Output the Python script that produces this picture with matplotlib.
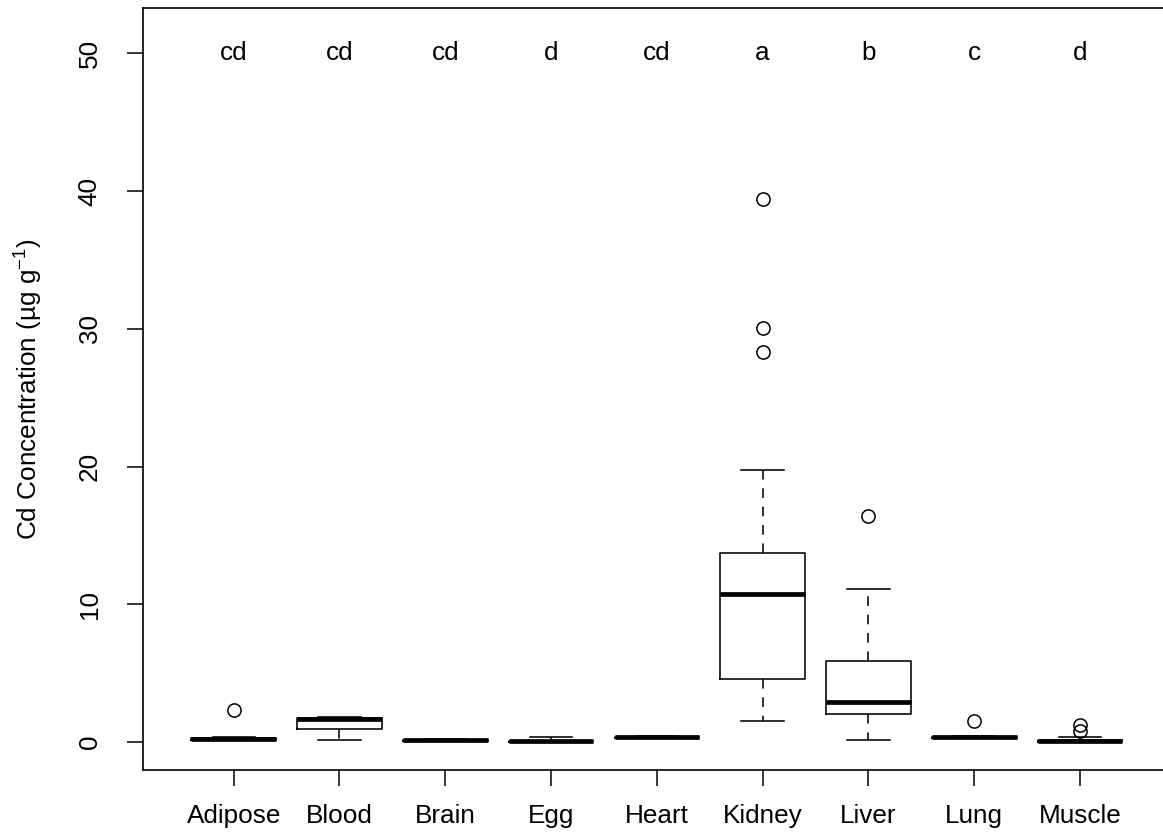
import matplotlib
matplotlib.use("Agg")
import matplotlib.pyplot as plt

plt.rcParams['font.family'] = ['Liberation Sans', 'DejaVu Sans']
plt.rcParams['mathtext.fontset'] = 'custom'
plt.rcParams['mathtext.rm'] = 'Liberation Sans'
plt.rcParams['mathtext.default'] = 'regular'

categories = ['Adipose', 'Blood', 'Brain', 'Egg', 'Heart', 'Kidney', 'Liver', 'Lung', 'Muscle']
letters = ['cd', 'cd', 'cd', 'd', 'cd', 'a', 'b', 'c', 'd']
whislo = [0.15, 0.12, 0.08, 0.00, 0.27, 1.55, 0.15, 0.26, 0.00]
q1 =     [0.18, 0.92, 0.11, 0.02, 0.30, 4.57, 2.03, 0.29, 0.03]
med =    [0.24, 1.68, 0.14, 0.06, 0.34, 10.73, 2.93, 0.34, 0.08]
q3 =     [0.30, 1.78, 0.17, 0.10, 0.38, 13.75, 5.86, 0.40, 0.14]
whishi = [0.33, 1.82, 0.20, 0.33, 0.42, 19.75, 11.10, 0.44, 0.34]
fliers = [[2.32], [], [], [], [], [28.3, 30.1, 39.4], [16.4], [1.50], [0.82, 1.23]]
yticks = [0, 10, 20, 30, 40, 50]
letter_y = 50

W, H = 1163, 840
fig = plt.figure(figsize=(W / 100, H / 100), dpi=100)
left_px, right_px, top_px, bottom_px = 142.7, 1171.0, 8.0, 770.0
ax = fig.add_axes([left_px / W, 1 - bottom_px / H, (right_px - left_px) / W, (bottom_px - top_px) / H])

stats = []
for i, c in enumerate(categories):
    stats.append(dict(label=c, whislo=whislo[i], q1=q1[i], med=med[i], q3=q3[i],
                      whishi=whishi[i], fliers=fliers[i]))

lw = 1.15
ax.bxp(stats, positions=range(1, len(categories) + 1), widths=0.8, showfliers=True,
       boxprops=dict(color='black', linewidth=lw),
       medianprops=dict(color='black', linewidth=3.4, solid_capstyle='butt'),
       whiskerprops=dict(color='black', linewidth=lw, linestyle=(0, (6, 5.5))),
       capprops=dict(color='black', linewidth=lw),
       capwidths=0.4,
       flierprops=dict(marker='o', markerfacecolor='none', markeredgecolor='black',
                       markersize=9.5, markeredgewidth=1.1, linestyle='none'))

fs = 18.8
for i, t in enumerate(letters):
    ax.text(i + 1, letter_y, t, ha='center', va='center', fontsize=fs)

ax.set_xlim(0.14, 9.86)
ax.set_ylim(-2.03, 53.3)
ax.set_yticks(yticks)
ax.set_yticklabels([str(v) for v in yticks], rotation=90, va='center')
ax.set_xticks(range(1, len(categories) + 1))
ax.set_xticklabels(categories)
ax.tick_params(axis='both', labelsize=fs, length=11.5, width=1.1, color='black')
ax.tick_params(axis='y', pad=18)
ax.tick_params(axis='x', pad=13)
for s in ax.spines.values():
    s.set_linewidth(1.2)
    s.set_color('black')
ax.set_ylabel('Cd Concentration (µg g$^{-1}$)', fontsize=fs)
ax.yaxis.set_label_coords((45 - left_px) / (right_px - left_px), 0.5)

fig.savefig('out.png', dpi=100)
